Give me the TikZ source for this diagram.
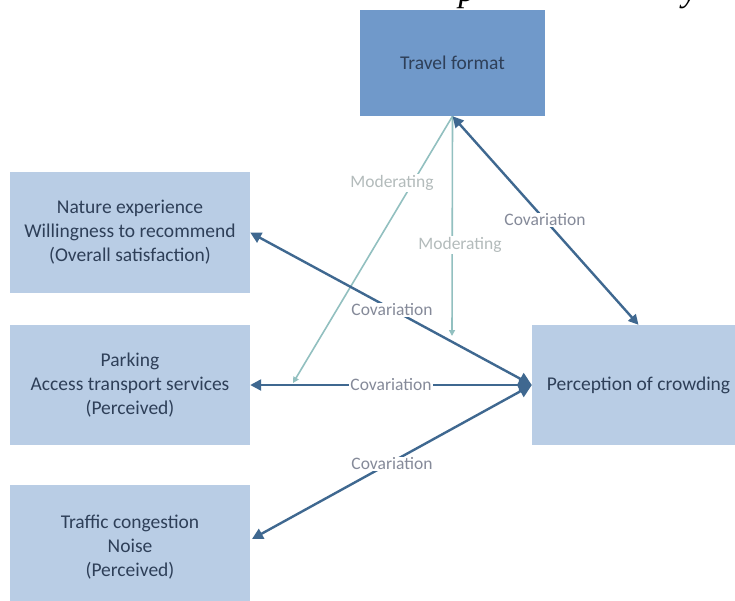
\documentclass[tikz,border=0pt]{standalone}
\usepackage{fontspec}
\setmainfont{Carlito}
\newfontfamily\capfont{Liberation Serif}
\usetikzlibrary{arrows.meta}
\definecolor{boxfill}{HTML}{B9CDE5}
\definecolor{topfill}{HTML}{7099CA}
\definecolor{boxtext}{HTML}{2E3F58}
\definecolor{darkarrow}{HTML}{3F6890}
\definecolor{modarrow}{HTML}{92C0C0}
\definecolor{covtext}{HTML}{858A99}
\definecolor{modtext}{HTML}{B3BBBB}
\begin{document}
\begin{tikzpicture}[x=1pt,y=-1pt,
  box/.style={fill=boxfill, text=boxtext, align=center, inner sep=0pt,
    font=\fontsize{19.5}{24}\selectfont},
  cov/.style={draw=darkarrow, line width=2.4pt,
    {Triangle[length=11pt,width=11pt]}-{Triangle[length=13pt,width=13pt]}},
  covup/.style={draw=darkarrow, line width=2.4pt,
    {Triangle[length=11pt,width=11pt]}-{Triangle[length=10pt,width=10pt]}},
  mod/.style={draw=modarrow, line width=1.6pt, -{Triangle[length=6pt,width=6pt]}},
  covlabel/.style={fill=white, text=covtext, inner sep=1pt,
    font=\fontsize{17.5}{20}\selectfont},
  modlabel/.style={fill=white, text=modtext, inner sep=1pt,
    font=\fontsize{17.5}{20}\selectfont},
  captext/.style={anchor=base, inner sep=0pt, text=black,
    font=\capfont\itshape\fontsize{34}{36}\selectfont}
]
\useasboundingbox (0,0) rectangle (735,600);
\clip (0,0) rectangle (735,600);
\fill[white] (0,0) rectangle (735,600);

% cropped caption text (only descenders visible)
\node[captext] (capp) at (467,1) {p};
\node[captext] (capy) at (690,1) {y};

% boxes
\node[box, fill=topfill, minimum width=185pt, minimum height=106pt] (travel) at (452.5,63) {Travel format};
\node[box, minimum width=240pt, minimum height=121pt] (nature) at (130,232.5)
  {Nature experience\\Willingness to recommend\\(Overall satisfaction)};
\node[box, minimum width=240pt, minimum height=120pt] (parking) at (130,385)
  {Parking\\Access transport services\\(Perceived)};
\node[box, minimum width=240pt, minimum height=124pt] (traffic) at (130,547)
  {Traffic congestion\\Noise\\(Perceived)};
\node[box, minimum width=213pt, minimum height=120pt] (percep) at (638.5,385)
  {Perception of crowding};

% targets of moderating arrows
\coordinate (m1) at (293,383);
\coordinate (m2) at (452,336);
\coordinate (tr) at (252,539);

% moderating arrows
\draw[mod] (travel.south) -- (m1);
\draw[mod] (travel.south) -- (m2);

% covariation arrows
\draw[cov] (nature.east) -- (percep.west);
\draw[cov] (parking.east) -- (percep.west);
\draw[cov] (tr) -- (percep.west);
\draw[covup] (travel.south) -- (percep.north);

% labels
\node[modlabel] (ml1) at (392,183) {Moderating};
\node[modlabel] (ml2) at (460,245) {Moderating};
\node[covlabel] (cl0) at (545,220) {Covariation};
\node[covlabel] (cl1) at (392,310) {Covariation};
\node[covlabel] (cl2) at (391,385) {Covariation};
\node[covlabel] (cl3) at (392,464) {Covariation};
\end{tikzpicture}
\end{document}
